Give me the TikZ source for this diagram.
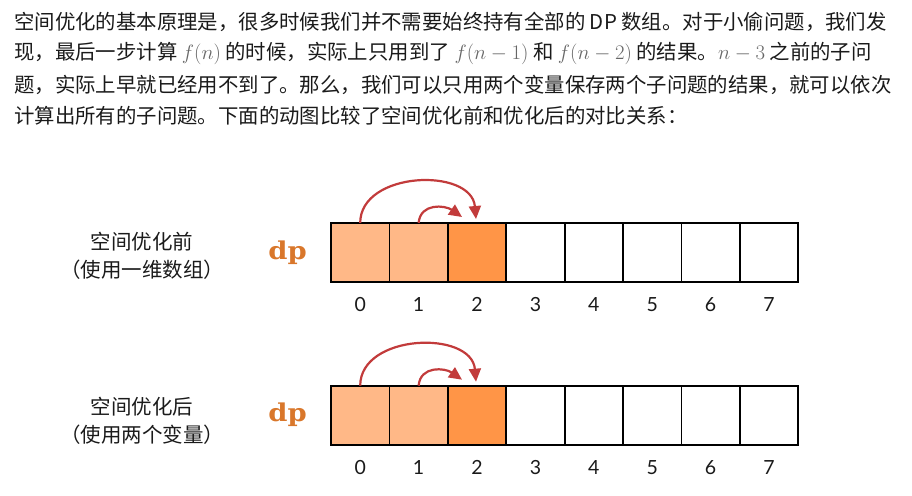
\documentclass[tikz,border=0pt]{standalone}
\usepackage[no-math]{fontspec}
\setmainfont{Noto Sans CJK SC}
\newfontfamily\idxfont{Lato}
\newfontfamily\codefont{DejaVu Serif}[BoldFeatures={FakeStretch=1.12}]
\usepackage{xcolor}
\usetikzlibrary{arrows.meta,positioning}
\definecolor{cellpale}{HTML}{FFB887}
\definecolor{celldeep}{HTML}{FF9547}
\definecolor{dporange}{HTML}{D9772B}
\definecolor{arcred}{HTML}{C23B3B}
\definecolor{mathgray}{HTML}{666666}
\definecolor{ink}{HTML}{1A1A1A}
\newcommand{\grm}[1]{\textcolor{mathgray}{$#1$}}
\tikzset{
  bodytext/.style={
    anchor=base west, inner sep=0pt,
    font=\fontsize{20.4}{24}\selectfont, text=ink
  },
  sidelabel/.style={
    align=center, inner sep=0pt,
    font=\fontsize{20.5}{28}\selectfont, text=ink
  },
  dplabel/.style={
    inner sep=0pt, font=\codefont\bfseries\fontsize{24.5}{26}\selectfont,
    text=dporange
  },
  cellbox/.style={
    rectangle, draw=black, fill=#1, line width=1.8pt,
    minimum width=58.4pt, minimum height=59pt,
    inner sep=0pt, outer sep=0pt
  },
  cellbox/.default=white,
  idxlabel/.style={
    inner sep=0pt, font=\fontsize{19.5}{20}\selectfont\idxfont, text=ink
  },
  hoparrow/.style={
    -{Triangle[length=13pt,width=12pt]}, line width=2.2pt, color=arcred
  },
}
\begin{document}
\begin{tikzpicture}[x=1pt,y=1pt]
  \useasboundingbox (0,0) rectangle (912,495);

  % Paragraph
  \node[bodytext] (line1) at (14,465.5) {空间优化的基本原理是，很多时候我们并不需要始终持有全部的 DP 数组。对于小偷问题，我们发};
  \node[bodytext] (line2) at (14,435) {现，最后一步计算 \grm{f(n)} 的时候，实际上只用到了 \grm{f(n-1)} 和 \grm{f(n-2)} 的结果。\grm{n-3} 之前的子问};
  \node[bodytext] (line3) at (14,402.5) {题，实际上早就已经用不到了。那么，我们可以只用两个变量保存两个子问题的结果，就可以依次};
  \node[bodytext] (line4) at (14,371.5) {计算出所有的子问题。下面的动图比较了空间优化前和优化后的对比关系：};

  % Before: one-dimensional array
  \node[cellbox=cellpale] (a0) at (360.2,242.5) {};
  \node[cellbox=cellpale, right=0pt of a0] (a1) {};
  \node[cellbox=celldeep, right=0pt of a1] (a2) {};
  \foreach \i [count=\p from 2] in {3,...,7}
    \node[cellbox, right=0pt of a\p] (a\i) {};
  \foreach \i in {0,...,7}
    \node[idxlabel, below=15.5pt of a\i] (ia\i) {\i};
  \node[dplabel, left=24pt of a0] (dpa) {dp};
  \node[sidelabel] (lbla) at (142,239) {空间优化前\\（使用一维数组）};

  \draw[hoparrow] (a0.north) to[out=90,in=95,looseness=1.15]
    ([xshift=-1pt,yshift=4pt]a2.north);
  \draw[hoparrow] (a1.north) to[out=85,in=145,looseness=1.2]
    ([xshift=-15pt,yshift=6pt]a2.north);

  % After: two variables
  \node[cellbox=cellpale] (b0) at (360.2,79.8) {};
  \node[cellbox=cellpale, right=0pt of b0] (b1) {};
  \node[cellbox=celldeep, right=0pt of b1] (b2) {};
  \foreach \i [count=\p from 2] in {3,...,7}
    \node[cellbox, right=0pt of b\p] (b\i) {};
  \foreach \i in {0,...,7}
    \node[idxlabel, below=15.5pt of b\i] (ib\i) {\i};
  \node[dplabel, left=24pt of b0] (dpb) {dp};
  \node[sidelabel] (lblb) at (142,74) {空间优化后\\（使用两个变量）};

  \draw[hoparrow] (b0.north) to[out=90,in=95,looseness=1.15]
    ([xshift=-1pt,yshift=4pt]b2.north);
  \draw[hoparrow] (b1.north) to[out=85,in=145,looseness=1.2]
    ([xshift=-15pt,yshift=6pt]b2.north);
\end{tikzpicture}
\end{document}
